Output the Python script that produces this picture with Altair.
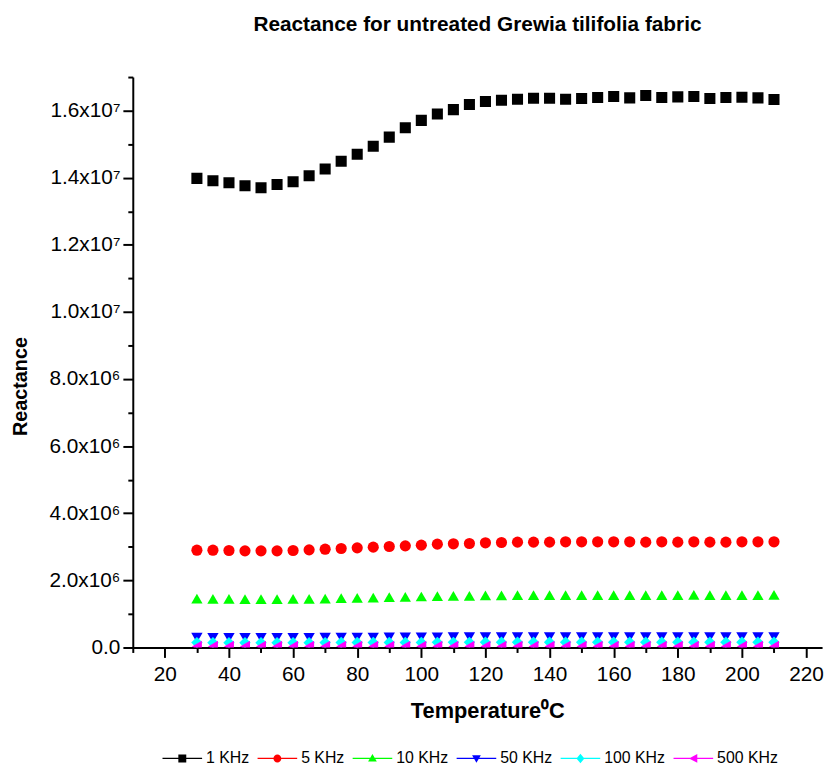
import altair as alt
import pandas as pd

temps = [30, 35, 40, 45, 50, 55, 60, 65, 70, 75, 80, 85, 90, 95, 100, 105, 110, 115, 120,
         125, 130, 135, 140, 145, 150, 155, 160, 165, 170, 175, 180, 185, 190, 195, 200, 205, 210]

series = ["1 KHz", "5 KHz", "10 KHz", "50 KHz", "100 KHz", "500 KHz"]
colors = ["#000000", "#FF0000", "#00FF00", "#0000FF", "#00FFFF", "#FF00FF"]
shapes = ["square", "circle", "triangle-up", "triangle-down", "diamond", "triangle-left"]
sizes = [125, 135, 180, 165, 120, 140]

k1 = [13.98, 13.91, 13.85, 13.76, 13.70, 13.80, 13.88, 14.06, 14.26, 14.49, 14.70, 14.94, 15.21,
      15.49, 15.71, 15.90, 16.03, 16.18, 16.27, 16.31, 16.34, 16.37, 16.37, 16.34, 16.36, 16.39,
      16.42, 16.38, 16.45, 16.39, 16.41, 16.42, 16.36, 16.39, 16.40, 16.38, 16.33]
k5 = [2.90, 2.90, 2.89, 2.88, 2.88, 2.88, 2.89, 2.91, 2.93, 2.95, 2.97, 2.99, 3.01, 3.03, 3.05,
      3.08, 3.09, 3.10, 3.12, 3.13, 3.14, 3.14, 3.14, 3.15, 3.15, 3.15, 3.15, 3.15, 3.14, 3.15,
      3.14, 3.15, 3.14, 3.14, 3.15, 3.15, 3.15]
k10 = [1.46, 1.45, 1.45, 1.44, 1.44, 1.44, 1.45, 1.45, 1.46, 1.47, 1.48, 1.49, 1.50, 1.51, 1.52,
       1.53, 1.54, 1.54, 1.55, 1.55, 1.56, 1.56, 1.56, 1.56, 1.56, 1.56, 1.56, 1.56, 1.56, 1.56,
       1.56, 1.57, 1.56, 1.56, 1.56, 1.56, 1.57]
k50 = [2.90, 2.89, 2.88, 2.87, 2.86, 2.86, 2.87, 2.88, 2.90, 2.92, 2.94, 2.96, 2.98, 3.00, 3.02,
       3.04, 3.06, 3.07, 3.08, 3.09, 3.10, 3.10, 3.11, 3.11, 3.11, 3.11, 3.12, 3.11, 3.12, 3.12,
       3.12, 3.12, 3.11, 3.12, 3.12, 3.12, 3.12]
k100 = [1.46, 1.45, 1.45, 1.44, 1.44, 1.44, 1.45, 1.45, 1.46, 1.47, 1.48, 1.49, 1.50, 1.51, 1.52,
        1.53, 1.54, 1.54, 1.55, 1.55, 1.56, 1.56, 1.56, 1.56, 1.56, 1.56, 1.56, 1.56, 1.56, 1.56,
        1.56, 1.56, 1.56, 1.56, 1.56, 1.56, 1.56]
k500 = [2.95, 2.94, 2.93, 2.92, 2.91, 2.91, 2.92, 2.93, 2.95, 2.97, 2.99, 3.01, 3.03, 3.05, 3.07,
        3.09, 3.11, 3.12, 3.13, 3.14, 3.15, 3.15, 3.16, 3.16, 3.16, 3.16, 3.16, 3.16, 3.16, 3.16,
        3.16, 3.16, 3.16, 3.16, 3.16, 3.16, 3.16]
units = [1e6, 1e6, 1e6, 1e5, 1e5, 1e4]

y_ticks = [0, 1e6, 2e6, 3e6, 4e6, 5e6, 6e6, 7e6, 8e6, 9e6, 1e7, 1.1e7, 1.2e7, 1.3e7, 1.4e7,
           1.5e7, 1.6e7, 1.7e7]
x_ticks = [10, 20, 30, 40, 50, 60, 70, 80, 90, 100, 110, 120, 130, 140, 150, 160, 170, 180,
           190, 200, 210, 220]

# legend glyphs: line segment + marker (unit box, drawn to the right of the symbol centre)
line = "M-1,-0.15H9V0.15H-1Z "
legend_paths = [
    line + "M3,-1H5V1H3Z",
    line + "M3,0A1,1 0 1,1 5,0A1,1 0 1,1 3,0Z",
    line + "M4,-1.1L5.1,0.8H2.9Z",
    line + "M2.9,-0.8H5.1L4,1.1Z",
    line + "M4,-1.2L5,0L4,1.2L3,0Z",
    line + "M2.9,0L5,-1.1V1.1Z",
]

rows = []
for s, vals, u in zip(series, [k1, k5, k10, k50, k100, k500], units):
    for t, v in zip(temps, vals):
        rows.append({"Temperature": t, "Reactance": v * u, "Frequency": s})
df = pd.DataFrame(rows)

FONT = "Liberation Sans"

y_label = ("datum.value === 0 ? '0.0' : (datum.value % 2000000 !== 0 ? '' : "
           "(datum.value < 10000000 ? format(datum.value / 1000000, '.1f') + 'x10\u2076' : "
           "format(datum.value / 10000000, '.1f') + 'x10\u2077'))")

x_enc = alt.X(
    "Temperature:Q",
    scale=alt.Scale(domain=[10, 225], nice=False, zero=False),
    axis=alt.Axis(
        values=x_ticks,
        labelExpr="datum.value % 20 === 0 ? datum.value : ''",
        tickSize={"condition": {"test": "datum.value % 20 === 0", "value": 10}, "value": 5},
        title="Temperature\u2070C",
        titleFontSize=22,
        titleX=358, titleY=64,
        titleAlign="center", titleBaseline="middle",
        labelPadding=6,
    ),
)
y_enc = alt.Y(
    "Reactance:Q",
    scale=alt.Scale(domain=[0, 1.7e7], nice=False),
    axis=alt.Axis(
        values=y_ticks,
        labelExpr=y_label,
        tickSize={"condition": {"test": "datum.value % 2000000 === 0", "value": 10}, "value": 5},
        title="Reactance",
        titleFontSize=20,
        titleAngle=270,
        titleX=-113, titleY=312,
        titleAlign="center", titleBaseline="middle",
        labelPadding=3,
    ),
)

base = alt.Chart(df)

pts = base.mark_point(filled=True, opacity=1, clip=True).encode(
    x=x_enc,
    y=y_enc,
    color=alt.Color("Frequency:N", scale=alt.Scale(domain=series, range=colors), legend=None),
    shape=alt.Shape("Frequency:N", scale=alt.Scale(domain=series, range=shapes), legend=None),
    size=alt.Size("Frequency:N", scale=alt.Scale(domain=series, range=sizes), legend=None),
)

leg = base.mark_point(filled=True, opacity=0, size=64).encode(
    x=x_enc,
    y=y_enc,
    color=alt.Color("Frequency:N", scale=alt.Scale(domain=series, range=colors),
                    legend=alt.Legend(title=None)),
    shape=alt.Shape("Frequency:N", scale=alt.Scale(domain=series, range=legend_paths),
                    legend=alt.Legend(title=None)),
)

chart = (
    alt.layer(pts, leg)
    .resolve_scale(color="independent", shape="independent")
    .properties(
        width=696,
        height=576,
        autosize="none",
        padding={"left": 126, "top": 66, "right": 8, "bottom": 124},
        title=alt.TitleParams(
            "Reactance for untreated Grewia tilifolia fabric",
            font=FONT, fontSize=21, fontWeight="bold", color="black",
            anchor="middle", offset=42, dx=0,
        ),
    )
    .configure_view(stroke=None)
    .configure_axis(
        grid=False,
        domainColor="black", domainWidth=2,
        tickColor="black", tickWidth=2,
        labelFont=FONT, labelFontSize=21, labelColor="black",
        titleFont=FONT, titleFontWeight="bold", titleColor="black",
    )
    .configure_legend(
        orient="none", legendX=26, legendY=680, direction="horizontal",
        symbolSize=64, symbolOpacity=1, symbolStrokeWidth=0,
        labelOffset=32, columnPadding=4, padding=0,
        labelFont=FONT, labelFontSize=16, labelColor="black", labelLimit=0,
    )
)

chart.save("out.html", embed_options={"renderer": "svg", "actions": False})
